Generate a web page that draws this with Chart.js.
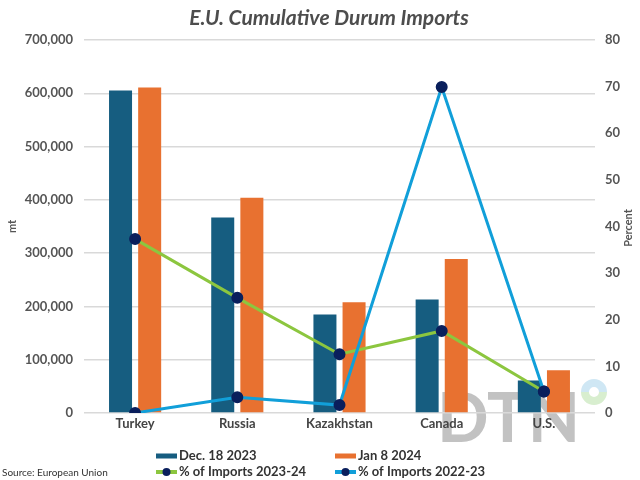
<!DOCTYPE html>
<html>
<head>
<meta charset="utf-8">
<script src="https://cdn.jsdelivr.net/npm/chart.js@4"></script>
<style>
  html, body { margin: 0; padding: 0; background: #ffffff; }
  #wrap { width: 640px; height: 480px; position: relative; }
</style>
</head>
<body>
<div id="wrap"><canvas id="chart" width="640" height="480"></canvas></div>
<script>
// values
const categories = ['Turkey', 'Russia', 'Kazakhstan', 'Canada', 'U.S.'];
const dec2023 = [605000, 367000, 185000, 213000, 61000];
const jan2024 = [611000, 404000, 208000, 289000, 80000];
const pct2324 = [37.3, 24.7, 12.6, 17.6, 4.6];
const pct2223 = [0, 3.4, 1.7, 69.9, 4.6];

const FONT = 'Lato, "Open Sans", sans-serif';

// title, watermark, right axis title, legend and source line
const decorPlugin = {
    id: 'decor',
    beforeDraw: (chart) => {
        const ctx = chart.ctx;
        ctx.save();
        ctx.fillStyle = '#ffffff';
        ctx.fillRect(0, 0, chart.width, chart.height);

        // DTN watermark
        ctx.fillStyle = '#c2c2c2';
        ctx.font = 'bold 68px ' + FONT;
        ctx.textBaseline = 'alphabetic';
        ctx.textAlign = 'left';
        ctx.fillText('DTN', 437, 442);

        // little ring
        ctx.lineWidth = 8;
        ctx.strokeStyle = '#cfe7f4';
        ctx.beginPath();
        ctx.arc(594, 392, 9, Math.PI, 0);
        ctx.stroke();
        ctx.strokeStyle = '#d8eecf';
        ctx.beginPath();
        ctx.arc(594, 392, 9, 0, Math.PI);
        ctx.stroke();
        ctx.restore();
    },
    afterDraw: (chart) => {
        const ctx = chart.ctx;
        ctx.save();

        // title
        ctx.fillStyle = '#4d4d4d';
        ctx.font = 'italic bold 21px ' + FONT;
        ctx.textAlign = 'center';
        ctx.textBaseline = 'middle';
        ctx.fillText('E.U. Cumulative Durum Imports', 329, 18);

        // right axis title, reading upwards
        ctx.fillStyle = '#555555';
        ctx.font = 'bold 11px ' + FONT;
        ctx.translate(628, 228);
        ctx.rotate(-Math.PI / 2);
        ctx.fillText('Percent', 0, 0);
        ctx.restore();

        // legend built from the datasets
        ctx.save();
        const spots = [[156, 456], [335, 456], [156, 472], [335, 472]];
        chart.data.datasets.forEach((ds, i) => {
            const [x, y] = spots[i];
            if (ds.type === 'bar') {
                ctx.fillStyle = ds.backgroundColor;
                ctx.fillRect(x, y - 2.5, 21, 5);
            } else {
                ctx.strokeStyle = ds.borderColor;
                ctx.lineWidth = 4;
                ctx.beginPath();
                ctx.moveTo(x, y);
                ctx.lineTo(x + 21, y);
                ctx.stroke();
                ctx.fillStyle = ds.pointBackgroundColor;
                ctx.beginPath();
                ctx.arc(x + 10.5, y, 4, 0, Math.PI * 2);
                ctx.fill();
            }
            ctx.fillStyle = '#333333';
            ctx.font = 'bold 13px ' + FONT;
            ctx.textAlign = 'left';
            ctx.textBaseline = 'middle';
            ctx.fillText(ds.label, x + 23, y);
        });

        // source
        ctx.font = '10px ' + FONT;
        ctx.fillStyle = '#333333';
        ctx.fillText('Source: European Union', 2, 473);
        ctx.restore();
    }
};

const ctx = document.getElementById('chart').getContext('2d');
new Chart(ctx, {
    type: 'bar',
    data: {
        labels: categories,
        datasets: [
            {
                type: 'bar',
                label: 'Dec. 18 2023',
                data: dec2023,
                backgroundColor: '#165d80',
                yAxisID: 'y',
                order: 3,
                categoryPercentage: 0.57,
                barPercentage: 0.79,
            },
            {
                type: 'bar',
                label: 'Jan 8 2024',
                data: jan2024,
                backgroundColor: '#e87130',
                yAxisID: 'y',
                order: 3,
                categoryPercentage: 0.57,
                barPercentage: 0.79,
            },
            {
                type: 'line',
                label: '% of Imports 2023-24',
                data: pct2324,
                borderColor: '#8cc63f',
                borderWidth: 3,
                pointBackgroundColor: '#0a1f5c',
                pointBorderColor: '#0a1f5c',
                pointRadius: 4.5,
                yAxisID: 'y1',
                order: 2,
            },
            {
                type: 'line',
                label: '% of Imports 2022-23',
                data: pct2223,
                borderColor: '#119fd9',
                borderWidth: 3,
                pointBackgroundColor: '#0a1f5c',
                pointBorderColor: '#0a1f5c',
                pointRadius: 4.5,
                yAxisID: 'y1',
                order: 1,
            },
        ]
    },
    options: {
        responsive: false,
        animation: false,
        layout: { padding: { top: 40, left: 0, right: 0, bottom: 0 } },
        plugins: {
            legend: { display: false },
            title: { display: false },
            tooltip: { enabled: false },
        },
        scales: {
            x: {
                grid: { display: false, drawTicks: false },
                border: { display: false },
                ticks: {
                    color: '#444444',
                    font: { family: FONT, size: 13, weight: 'bold' },
                    padding: 3,
                    maxRotation: 0,
                },
                afterFit: (scale) => { scale.height = 67; },
            },
            y: {
                position: 'left',
                min: 0,
                max: 700000,
                grid: { color: '#d9d9d9', lineWidth: 1.5, drawTicks: false },
                border: { display: false },
                ticks: {
                    stepSize: 100000,
                    padding: 11,
                    color: '#555555',
                    font: { family: FONT, size: 13, weight: 'bold' },
                    callback: (v) => v.toLocaleString('en-US'),
                },
                title: {
                    display: true,
                    text: 'mt',
                    color: '#555555',
                    font: { family: FONT, size: 11, weight: 'bold' },
                    padding: { top: 6, bottom: 0 },
                },
                afterFit: (scale) => { scale.width = 84; },
            },
            y1: {
                position: 'right',
                min: 0,
                max: 80,
                grid: { display: false, drawTicks: false },
                border: { display: false },
                ticks: {
                    stepSize: 10,
                    padding: 10,
                    color: '#555555',
                    font: { family: FONT, size: 13, weight: 'bold' },
                },
                afterFit: (scale) => { scale.width = 45; },
            },
        },
    },
    plugins: [decorPlugin],
});
</script>
</body>
</html>
